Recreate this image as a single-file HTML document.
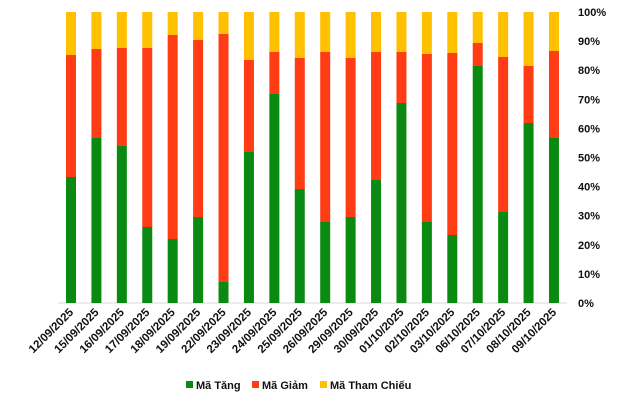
<!DOCTYPE html>
<html><head><meta charset="utf-8"><style>
body{margin:0;background:#fff}
svg text{font-family:"Liberation Sans",sans-serif;font-weight:bold;font-size:11px;fill:#111}
#xl text{font-size:11.5px}
</style></head><body>
<svg width="640" height="400" xmlns="http://www.w3.org/2000/svg">
<line x1="58" y1="303" x2="567" y2="303" stroke="#d9d9d9" stroke-width="1"/>
<g id="bars"></g>
<g id="yl"></g>
<g id="xl"></g>
<g>
<rect x="186" y="381" width="7" height="7" fill="#0a8a12"/><text x="196" y="389">Mã Tăng</text>
<rect x="252" y="381" width="7" height="7" fill="#ff3c14"/><text x="262" y="389">Mã Giảm</text>
<rect x="320" y="381" width="7" height="7" fill="#ffc000"/><text x="330" y="389">Mã Tham Chiếu</text>
</g>
</svg>
<script>
var d=[[55,177],[49,138],[48,146],[48,227],[35,239],[40,217],[34,282],[60,152],[52,94],[58,189],[52,222],[58,217],[52,180],[52,103],[54,222],[53,235],[43,66],[57,212],[66,123],[51,138]];
var L=["12/09/2025","15/09/2025","16/09/2025","17/09/2025","18/09/2025","19/09/2025","22/09/2025","23/09/2025","24/09/2025","25/09/2025","26/09/2025","29/09/2025","30/09/2025","01/10/2025","02/10/2025","03/10/2025","06/10/2025","07/10/2025","08/10/2025","09/10/2025"];
var ns="http://www.w3.org/2000/svg",b=document.getElementById("bars"),xl=document.getElementById("xl"),yl=document.getElementById("yl");
function r(x,y,w,h,c){var e=document.createElementNS(ns,"rect");e.setAttribute("x",x);e.setAttribute("y",y);e.setAttribute("width",w);e.setAttribute("height",h);e.setAttribute("fill",c);b.appendChild(e);}
d.forEach(function(v,i){var x=66+i*25.42;r(x,12,10,v[0]-12,"#ffc000");r(x,v[0],10,v[1]-v[0],"#ff3c14");r(x,v[1],10,303-v[1],"#0a8a12");
var t=document.createElementNS(ns,"text");var cx=x+8,cy=313;t.setAttribute("x",cx);t.setAttribute("y",cy);t.setAttribute("text-anchor","end");t.setAttribute("transform","rotate(-45 "+cx+" "+cy+")");t.textContent=L[i];xl.appendChild(t);});
for(var k=0;k<=10;k++){var t=document.createElementNS(ns,"text");t.setAttribute("x",578);t.setAttribute("y",303-k*29.1+4);t.textContent=(k*10)+"%";yl.appendChild(t);}
</script>
</body></html>
